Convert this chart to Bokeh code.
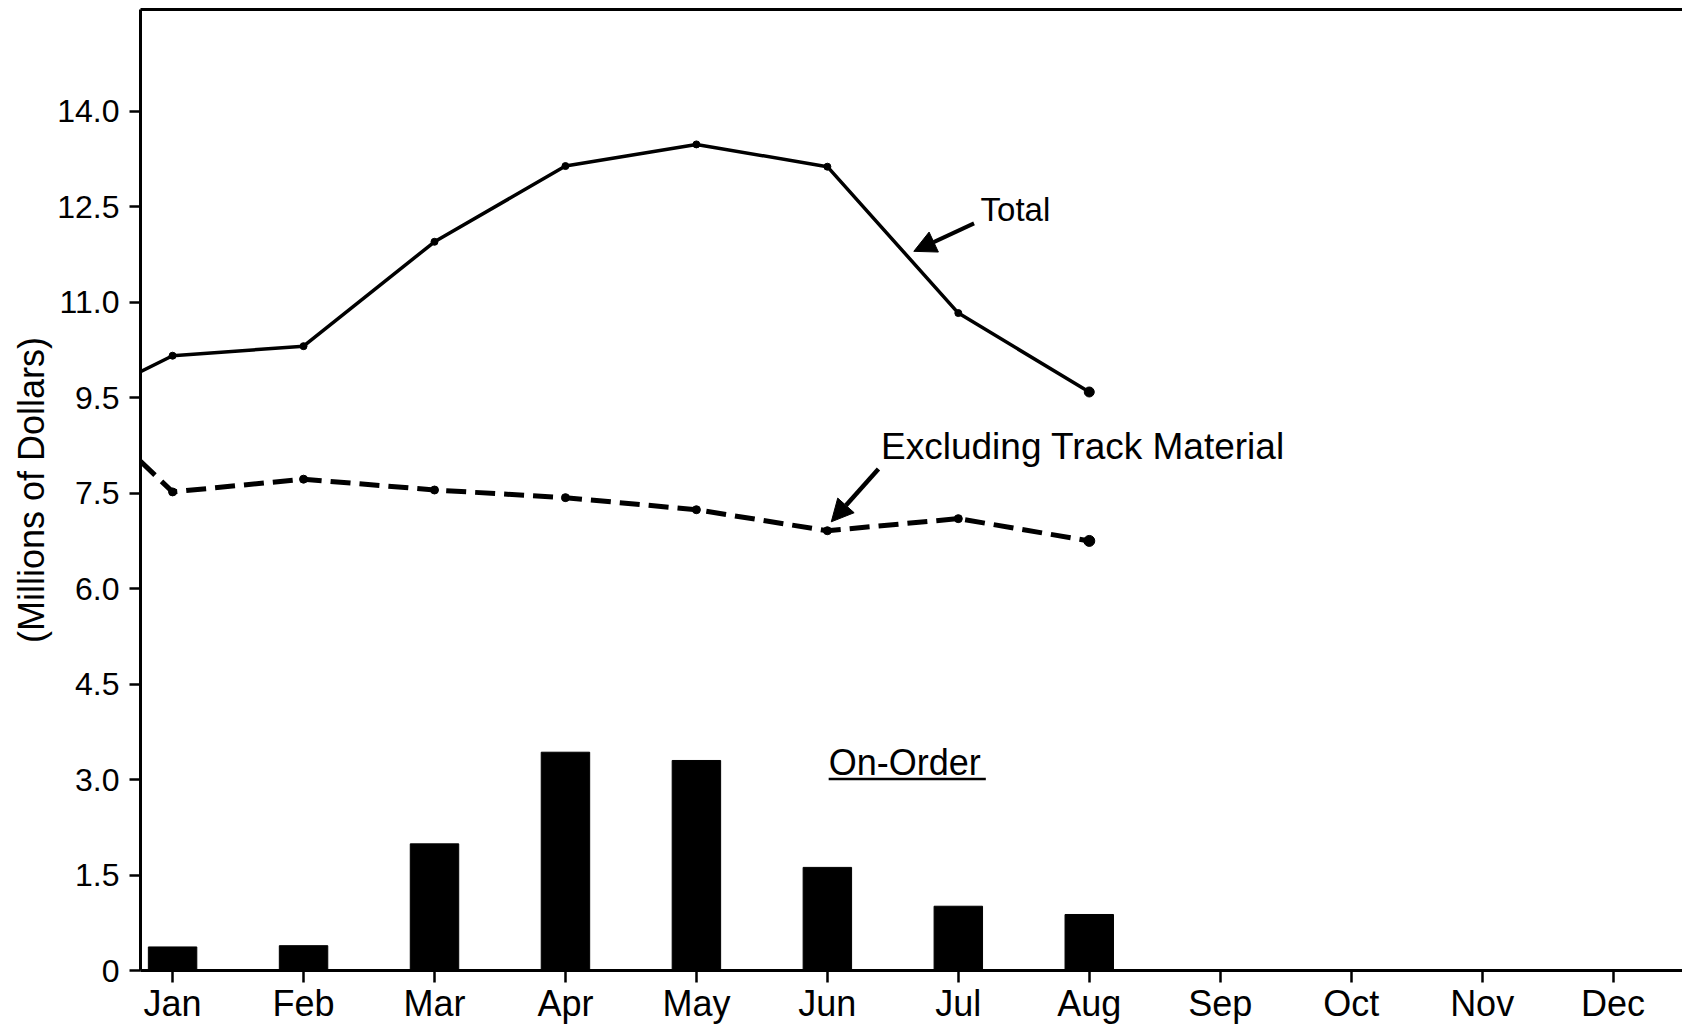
from bokeh.plotting import figure
from bokeh.models import Range1d, FixedTicker, LinearAxis, Arrow, NormalHead, Label
from bokeh.embed import file_html
from bokeh.resources import INLINE

# ---- data ----
months = ["Jan", "Feb", "Mar", "Apr", "May", "Jun", "Jul", "Aug", "Sep", "Oct", "Nov", "Dec"]
month_pos = [1, 2, 3, 4, 5, 6, 7, 8, 9, 10, 11, 12]
data_months = month_pos[:8]

total_start = 9.41          # value where the line meets the y axis
total = [9.66, 9.81, 11.45, 12.64, 12.98, 12.63, 10.33, 9.09]
excl_start = 8.0
excl_track = [7.52, 7.72, 7.55, 7.43, 7.24, 6.91, 7.10, 6.75]
on_order = [0.37, 0.39, 1.99, 3.43, 3.30, 1.62, 1.01, 0.88]

y_ticks = [0, 1.5, 3.0, 4.5, 6.0, 7.5, 9.0, 10.5, 12.0, 13.5]
y_tick_labels = ["0", "1.5", "3.0", "4.5", "6.0", "7.5", "9.5", "11.0", "12.5", "14.0"]

X_START, X_END = 0.755, 12.53
Y_START, Y_END = 0.0, 15.1
FONT = "Liberation Sans"

p = figure(width=1682, height=1026, output_backend="svg", toolbar_location=None,
           x_range=Range1d(X_START, X_END), y_range=Range1d(Y_START, Y_END),
           min_border_left=140, min_border_right=0, min_border_top=9, min_border_bottom=0)
p.grid.visible = False
p.outline_line_color = None
p.background_fill_color = "white"
p.border_fill_color = "white"

# x axis
xa = p.xaxis[0]
xa.ticker = FixedTicker(ticks=month_pos)
xa.major_label_overrides = {m: lab for m, lab in zip(month_pos, months)}
xa.major_label_text_font = FONT
xa.major_label_text_font_size = "36px"
xa.major_label_text_color = "black"
xa.major_label_standoff = 0
xa.axis_line_width = 3
xa.axis_line_color = "black"
xa.major_tick_out = 12
xa.major_tick_in = 0
xa.major_tick_line_width = 2.5
xa.minor_tick_out = 0
xa.minor_tick_in = 0

# y axis
ya = p.yaxis[0]
ya.ticker = FixedTicker(ticks=y_ticks)
ya.major_label_overrides = {t: lab for t, lab in zip(y_ticks, y_tick_labels)}
ya.major_label_text_font = FONT
ya.major_label_text_font_size = "32px"
ya.major_label_text_color = "black"
ya.major_label_standoff = 10
ya.axis_line_width = 3
ya.axis_line_color = "black"
ya.major_tick_out = 11
ya.major_tick_in = 0
ya.major_tick_line_width = 2.5
ya.minor_tick_out = 0
ya.minor_tick_in = 0
ya.axis_label = "(Millions of Dollars)"
ya.axis_label_text_font = FONT
ya.axis_label_text_font_size = "36px"
ya.axis_label_text_font_style = "normal"
ya.axis_label_text_color = "black"
ya.axis_label_standoff = 2

# top border line
top = LinearAxis(ticker=FixedTicker(ticks=[]), major_label_text_font_size="0px",
                 axis_line_width=3, axis_line_color="black",
                 major_tick_out=0, major_tick_in=0, minor_tick_out=0, minor_tick_in=0,
                 major_label_standoff=0)
p.add_layout(top, "above")

# bars
p.vbar(x=data_months, top=on_order, bottom=0, width=0.37, fill_color="black", line_color="black")

# total line
p.line(x=[X_START] + data_months, y=[total_start] + total, line_width=3.5, line_color="black")
p.scatter(x=data_months, y=total, size=7, color="black")
p.scatter(x=data_months[-1:], y=total[-1:], size=10, color="black")

# excluding track material
p.line(x=[X_START] + data_months, y=[excl_start] + excl_track, line_width=5,
       line_color="black", line_dash="20 9")
p.scatter(x=data_months, y=excl_track, size=8, color="black")
p.scatter(x=data_months[-1:], y=excl_track[-1:], size=11, color="black")

# annotations
p.add_layout(Label(x=7.17, y=11.95, text="Total", text_font=FONT, text_font_size="33px",
                   text_baseline="middle", text_color="black"))
p.add_layout(Arrow(end=NormalHead(size=22, fill_color="black", line_color="black"),
                   x_start=7.12, y_start=11.74, x_end=6.66, y_end=11.30,
                   line_width=4, line_color="black"))

p.add_layout(Label(x=6.41, y=8.24, text="Excluding Track Material", text_font=FONT,
                   text_font_size="37px", text_baseline="middle", text_color="black"))
p.add_layout(Arrow(end=NormalHead(size=22, fill_color="black", line_color="black"),
                   x_start=6.39, y_start=7.88, x_end=6.03, y_end=7.05,
                   line_width=4.5, line_color="black"))

p.add_layout(Label(x=6.01, y=3.27, text="On-Order", text_font=FONT, text_font_size="36px",
                   text_baseline="middle", text_color="black"))
p.segment(x0=[6.01], y0=[3.01], x1=[7.21], y1=[3.01], line_width=2.5, line_color="black")

open("out.html", "w").write(file_html(p, INLINE))
